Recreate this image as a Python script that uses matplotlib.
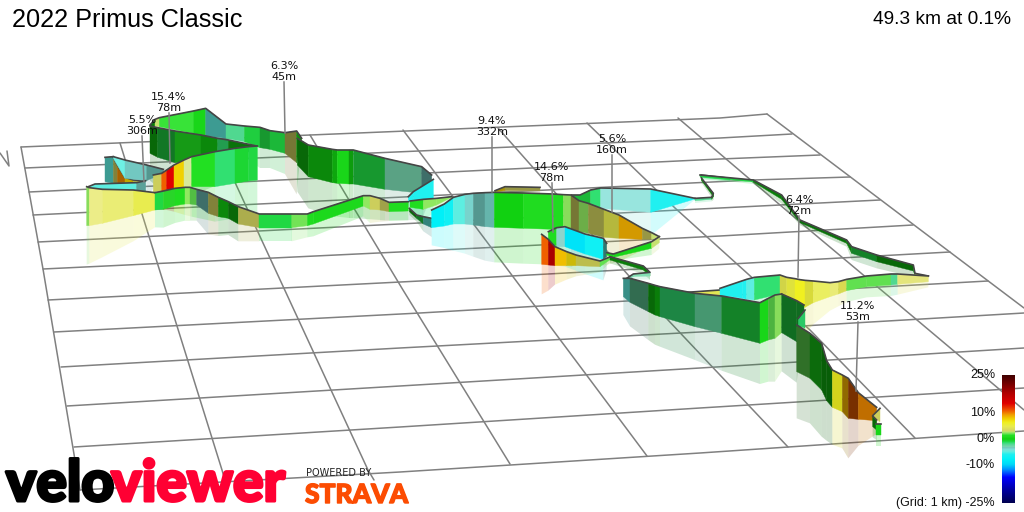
import numpy as np
import matplotlib
matplotlib.use("Agg")
import matplotlib.pyplot as plt
import matplotlib.patheffects as pe
from matplotlib.colors import LinearSegmentedColormap
from matplotlib.patches import Polygon

# ---- data (route; coordinates in 3x crop frames) ----
FRAMES = {"a": (0, 50), "b": (400, 100), "c": (600, 170)}

title_left = "2022 Primus Classic"
title_right = "49.3 km at 0.1%"

# each ribbon: frame, x, top, base, grade per segment, light per segment
a1 = ("a", [315, 340], [322, 320], [395, 400], [-5], [.65])
a2 = ("a", [340, 352, 375, 400, 435], [322, 345, 382, 390, 392], [400, 405, 402, 402, 395], [3.5, 10, 8, 4], [.6, .7, .8, .8])
a3 = ("a", [340, 375, 440, 490], [320, 330, 345, 358], [325, 385, 392, 370], [-5, -4, -3.5], [1.05, .9, .75])
a4 = ("a", [265, 285, 410, 437], [410, 402, 398, 392], [412, 415, 420, 428], [-5, -5, -3.5], [1, 1, .8])
i1 = ("a", [450, 465, 478, 580, 617, 678, 733, 780, 810, 855, 890, 905],
      [225, 208, 203, 183, 175, 222, 228, 232, 242, 248, 243, 265],
      [240, 228, 230, 250, 258, 265, 275, 293, 298, 310, 338, 270],
      [0, 3, 1.5, .5, -5, -2, -1, -1, -1, 3.5, 0], [.6, 1, 1.05, 1, .65, 1, .95, .7, .85, .55, .7])
j1 = ("a", [892, 925, 997, 1012, 1048, 1060, 1155, 1265, 1295],
      [265, 285, 298, 300, 300, 300, 325, 350, 375],
      [345, 380, 398, 400, 402, 402, 418, 430, 405],
      [0, 0, 0, .5, 0, -1, -3, -3.5], [.5, .65, .8, 1, .75, .7, .75, .55])
j2 = ("a", [1225, 1240, 1300], [440, 425, 388], [452, 455, 455], [-6, -6], [1, 1])
k1 = ("a", [450, 473, 525, 603, 653, 685, 770],
      [228, 233, 243, 255, 265, 270, 288],
      [310, 322, 338, 340, 335, 320, 300],
      [0, -1, 1, 0, -1.5, 0], [.5, .55, .7, .65, .7, .55])
l1 = ("a", [460, 485, 500, 522, 552, 575, 645, 705, 745, 772],
      [375, 370, 360, 345, 330, 320, 305, 295, 290, 288],
      [425, 425, 420, 415, 412, 410, 410, 400, 393, 390],
      [3.5, 11, 14, 8, 3, 1.5, -1.5, -.7, -1], [.95, 1, 1, 1, 1.15, 1, 1, 1, 1])
b1 = ("a", [260, 268, 307, 400, 465], [410, 413, 418, 420, 428], [527, 527, 520, 497, 480], [2.5, 4.5, 4.7, 5], [.95, 1.15, 1.1, 1])
c1 = ("a", [465, 490, 525, 555, 570, 590, 625, 655, 685, 715, 778, 875, 922, 940, 1090, 1110, 1140, 1167, 1225],
      [428, 423, 415, 412, 412, 418, 427, 442, 455, 470, 492, 492, 492, 485, 437, 437, 445, 457, 455],
      [480, 478, 467, 462, 462, 465, 490, 500, 505, 522, 533, 533, 527, 522, 468, 478, 480, 485, 483],
      [-1, 0, 1, 2.5, 2, -3.5, 3.5, 0, 0, 3.5, -1, 2.2, 1, .7, 2.5, 3.5, 3.5, 1],
      [1, 1.05, 1, 1, .85, .55, .6, .65, .5, .8, 1, 1, 1, 1, 1, .95, .75, 1])
d0 = ("b", [28, 50, 70, 95], [325, 345, 350, 355], [335, 355, 372, 383], [0, -1, -5], [.5, .55, .55])
w1 = ("b", [30, 70, 110, 155], [303, 298, 295, 290], [322, 328, 315, 292], [1, 2.5, 2.5], [1, 1, 1])
e0 = ("b", [285, 315, 420], [272, 260, 262], [275, 272, 272], [8, 3.5], [.7, .7])
e1 = ("b", [515, 540, 572, 602, 752, 885], [285, 285, 270, 264, 267, 295], [290, 305, 318, 325, 337, 297],
      [-1, -1, -1.5, -4, -6], [.85, .85, 1, 1.1, 1])
e2 = ("b", [885, 935, 940, 905, 903, 990], [295, 292, 280, 235, 225, 235], [302, 298, 290, 242, 232, 240],
      [-2, 0, 0, 0, -1.5], [1, .6, .6, .6, 1])
e3 = ("c", [300, 460, 545, 600, 740, 755, 830, 940, 945, 985],
      [15, 30, 75, 150, 210, 230, 255, 285, 310, 318],
      [20, 36, 88, 158, 220, 250, 275, 303, 316, 322],
      [-1, 0, 0, 0, 0, -1, 0, 1, 3], [1, .6, .55, .55, .6, .6, .5, .7, 1])
d1 = ("b", [95, 133, 160, 195, 220, 255, 283, 370, 460, 490, 513, 537, 565, 612, 657, 727, 755, 778],
      [330, 312, 292, 283, 280, 278, 277, 279, 282, 284, 285, 302, 310, 328, 345, 385, 398, 410],
      [383, 378, 372, 372, 375, 380, 382, 385, 388, 390, 393, 395, 400, 412, 415, 418, 418, 410],
      [-8, -7, -5, -4, -3.5, -3.5, 0, 1, 1, 2.5, 3.5, 2.5, 3.5, 5, 9, 3.5, 3],
      [1, 1, 1, .95, .75, .9, 1, 1, 1, .95, .55, .75, .65, .78, .88, .7, 1])
h0 = ("b", [445, 470, 495, 555, 610, 620], [395, 383, 380, 402, 415, 430], [418, 440, 440, 462, 478, 470],
      [1, -3.5, -9, -7, -5], [1, 1.1, 1, 1, .5])
h1 = ("b", [425, 445, 465, 500, 528, 600, 632], [403, 418, 440, 455, 465, 483, 470], [493, 495, 497, 497, 497, 500, 478],
      [11, 15, 8.5, 7.5, 4, 2], [1, .8, 1, .85, .85, 1])
s1 = ("b", [620, 640, 755, 778], [458, 462, 425, 410], [465, 472, 445, 428], [.5, .5, 3], [1, 1, 1])
s2 = ("b", [630, 730, 750, 700, 680], [470, 498, 517, 522, 535], [480, 510, 528, 530, 540], [0, 0, -2.5, -3], [.6, .6, 1.1, 1])
f1 = ("c", [360, 428, 440, 463, 540, 560, 585, 600, 615, 640, 690, 715, 740, 800, 873, 893, 985],
      [355, 332, 328, 322, 315, 322, 326, 329, 331, 333, 338, 335, 328, 318, 312, 312, 318],
      [375, 385, 388, 390, 372, 380, 395, 405, 412, 398, 380, 372, 362, 350, 345, 343, 335],
      [-6, -6, -5, -1.5, 5, 5.5, 6.5, 6.5, 5.5, 5, 4.5, 4.5, 2, 2, -2, 4],
      [1, 1, 1, 1, .9, .95, 1, 1, .92, 1.05, 1.1, .95, 1, 1, 1, 1.1])
f0 = ("c", [245, 360], [368, 360], [372, 375], [4.5], [1])
g1 = ("c", [70, 90, 145, 165, 180, 285, 365, 480, 505, 525, 545],
      [325, 325, 340, 346, 350, 370, 378, 398, 385, 375, 372],
      [380, 397, 425, 435, 440, 470, 490, 520, 510, 505, 488],
      [-5, -2.5, 0, 0, -1.5, -2.5, -1, .5, 2, 2.5], [.6, .5, .5, .6, .6, .7, .6, 1, .8, .95])
g2 = ("c", [545, 590, 612], [372, 392, 405], [488, 515, 425], [-1, -1], [.5, .5])
g2s = ("c", [595, 615], [445, 420], [465, 475], [-1.5], [.9])
g3 = ("c", [590, 630, 665, 680, 697, 727, 745, 775, 830],
      [465, 490, 520, 572, 600, 615, 625, 668, 712],
      [605, 625, 660, 692, 712, 725, 745, 748, 752],
      [2, .5, 0, 0, 6.5, 9, 11, 10], [.5, .5, .45, .45, .88, .6, .5, .8])
t1 = ("c", [820, 840], [735, 715], [740, 755], [3.5], [.95])
t2 = ("c", [818, 830], [738, 750], [770, 780], [0], [.5])
t3 = ("c", [828, 842], [762, 762], [795, 795], [.5], [1])

ribbons = [a1, a2, a3, a4, i1, j1, k1, l1, b1, c1, j2, d0, w1, e0, e1, e2, e3, d1, h0, h1, s1, s2,
           f0, f1, g1, g2, g2s, g3, t1, t2, t3]

# climbs
climb_grade = ["6.3%", "15.4%", "5.5%", "9.4%", "14.6%", "5.6%", "6.4%", "11.2%"]
climb_len = ["45m", "78m", "306m", "332m", "78m", "160m", "72m", "53m"]
climb_x = [284, 169, 142, 492, 552, 612, 799, 858]
climb_y = [66, 97, 120, 121, 167, 139, 200, 306]
climb_foot_x = [285, 170, 144, 492, 553, 612, 798, 856]
climb_foot_y = [133, 163, 182, 192, 232, 212, 277, 391]

# perspective grid
rows = [[(21, 147), (720, 118), (767, 114)],
        [(25, 168), (720, 138), (792, 134)],
        [(29, 192), (720, 159), (820, 155)],
        [(33, 215), (753, 180), (850, 177)],
        [(38, 242), (720, 208), (880, 200)],
        [(43, 269), (420, 251), (720, 236), (913, 225)],
        [(48, 300), (420, 281), (950, 252)],
        [(54, 332), (420, 313), (627, 301), (988, 281)],
        [(61, 367), (400, 348), (700, 332), (1024, 313)],
        [(67, 406), (400, 386), (700, 368), (1024, 348)],
        [(74, 447), (400, 427), (700, 408), (1024, 388)],
        [(80, 490), (400, 472), (700, 453), (1024, 431)]]
diagonals = [[(21, 147), (43, 269), (80, 490)],
             [(120, 143), (147, 230), (222, 470), (226, 484)],
             [(215, 139), (257, 230), (368, 470), (374, 480)],
             [(310, 135), (367, 230), (403, 290), (510, 464)],
             [(403, 130), (523, 290), (647, 456)],
             [(498, 128), (668, 320), (788, 447)],
             [(587, 123), (675, 208), (810, 330), (915, 438)],
             [(678, 118), (800, 222), (917, 320), (1024, 410)],
             [(767, 114), (1024, 308)]]
corner_mark = [(0, 153), (9, 166), (7, 151)]

# gradient scale
scale_grades = [-25, -20, -15, -12, -10, -8, -6, -5, -4, -3.5, -3, -2, -1.5, -1, 0, 1, 1.5, 2, 2.5, 3, 3.5, 5, 6.5, 8, 9.5, 11, 14, 18, 25]
scale_colors = ["#000050", "#0000a0", "#0000ff", "#0090ff", "#00d8f8", "#00f0f8", "#20f0f0", "#60eee0", "#80e0d8",
                "#70c8c0", "#78d8b0", "#50d890", "#30e070", "#20d840", "#10d010", "#20dc20", "#20e020", "#60e050",
                "#90e860", "#c8e070", "#d8d860", "#e8ec50", "#f0f020", "#f0d000", "#f0a000", "#f06000", "#e00000",
                "#b00000", "#400000"]
bar_ticks = [25, 10, 0, -10, -25]
bar_labels = ["25%", "10%", "0%", "-10%", "(Grid: 1 km) -25%"]

# ---- drawing ----
GRAY = "#808080"
fig = plt.figure(figsize=(10.24, 5.12), dpi=100)
ax = fig.add_axes([0, 0, 1, 1])
ax.set_xlim(0, 1024)
ax.set_ylim(512, 0)
ax.axis("off")

vals = np.array(scale_grades, float)
cmap = LinearSegmentedColormap.from_list("grade", list(zip((vals + 25) / 50, scale_colors)), N=512)


def tone(g, s):
    c = np.array(cmap((g + 25) / 50)[:3])
    return tuple(c * s) if s <= 1 else tuple(c + (1 - c) * (s - 1) * 2)


for pts in rows + diagonals + [corner_mark]:
    p = np.array(pts)
    ax.plot(p[:, 0], p[:, 1], color=GRAY, lw=1.1, zorder=1, solid_capstyle="round")


def unpack(r):
    ox, oy = FRAMES[r[0]]
    x = ox + np.array(r[1]) / 3
    return x, oy + np.array(r[2]) / 3, oy + np.array(r[3]) / 3, r[4], r[5]


for r in ribbons:
    x, top, base, gr, li = unpack(r)
    mirror = base + (base - top)
    for i in range(len(gr)):
        ax.add_patch(Polygon([(x[i], base[i]), (x[i + 1], base[i + 1]), (x[i + 1], mirror[i + 1]), (x[i], mirror[i])],
                             closed=True, fc=tone(gr[i], min(li[i], 1)), ec="none", alpha=.2, zorder=2))

z = 3
for r in ribbons:
    x, top, base, gr, li = unpack(r)
    for i in range(len(gr)):
        col = tone(gr[i], li[i])
        ax.add_patch(Polygon([(x[i], top[i]), (x[i + 1], top[i + 1]), (x[i + 1], base[i + 1]), (x[i], base[i])],
                             closed=True, fc=col, ec=col, lw=.3, zorder=z))
    ax.plot(x, top, color="#454545", lw=1.2, zorder=z + .5, solid_joinstyle="round")
    z += 1

for gt, ln, tx, ty, fx, fy in zip(climb_grade, climb_len, climb_x, climb_y, climb_foot_x, climb_foot_y):
    ax.plot([tx, fx], [ty + 16, fy], color=GRAY, lw=1.1, zorder=100)
    ax.text(tx, ty, gt, ha="center", va="center", fontsize=8, family="DejaVu Sans", color="#111111", zorder=101)
    ax.text(tx, ty + 11, ln, ha="center", va="center", fontsize=8, family="DejaVu Sans", color="#111111", zorder=101)

ax.text(12, 20, title_left, fontsize=18.2, family="Liberation Sans", ha="left", va="center", color="black", zorder=110)
ax.text(1011, 20, title_right, fontsize=13.8, family="Liberation Sans", ha="right", va="center", color="black", zorder=110)

bar = np.linspace(25, -25, 256).reshape(-1, 1)
ax.imshow(bar, cmap=cmap, vmin=-25, vmax=25, extent=(1002, 1015, 503, 375), aspect="auto", zorder=105)
ax.set_xlim(0, 1024)
ax.set_ylim(512, 0)
for t, lab in zip(bar_ticks, bar_labels):
    y = 439 - t * 2.55
    ax.text(995, y, lab, ha="right", va="center", fontsize=9, family="Liberation Sans", color="#111111", zorder=110)

thick_k = [pe.withStroke(linewidth=2.2, foreground="black")]
thick_r = [pe.withStroke(linewidth=2.2, foreground="#ff0033")]
thick_o = [pe.withStroke(linewidth=1.0, foreground="#fc4c02")]
ax.text(6, 501, "velo", fontsize=41, fontweight="black", family="Lato", color="black", ha="left", va="baseline", zorder=110, path_effects=thick_k)
ax.text(285, 501, "viewer", fontsize=41, fontweight="black", family="Lato", color="#ff0033", ha="right", va="baseline", zorder=111, path_effects=thick_r)
ax.text(306, 473, "POWERED BY", fontsize=7, family="DejaVu Sans", color="#222222", ha="left", va="center", zorder=110)
ax.text(305, 503, "STRAVA", fontsize=19, fontweight="black", family="Lato", color="#fc4c02", ha="left", va="baseline", zorder=110, path_effects=thick_o)

fig.savefig("out.png", dpi=100)
